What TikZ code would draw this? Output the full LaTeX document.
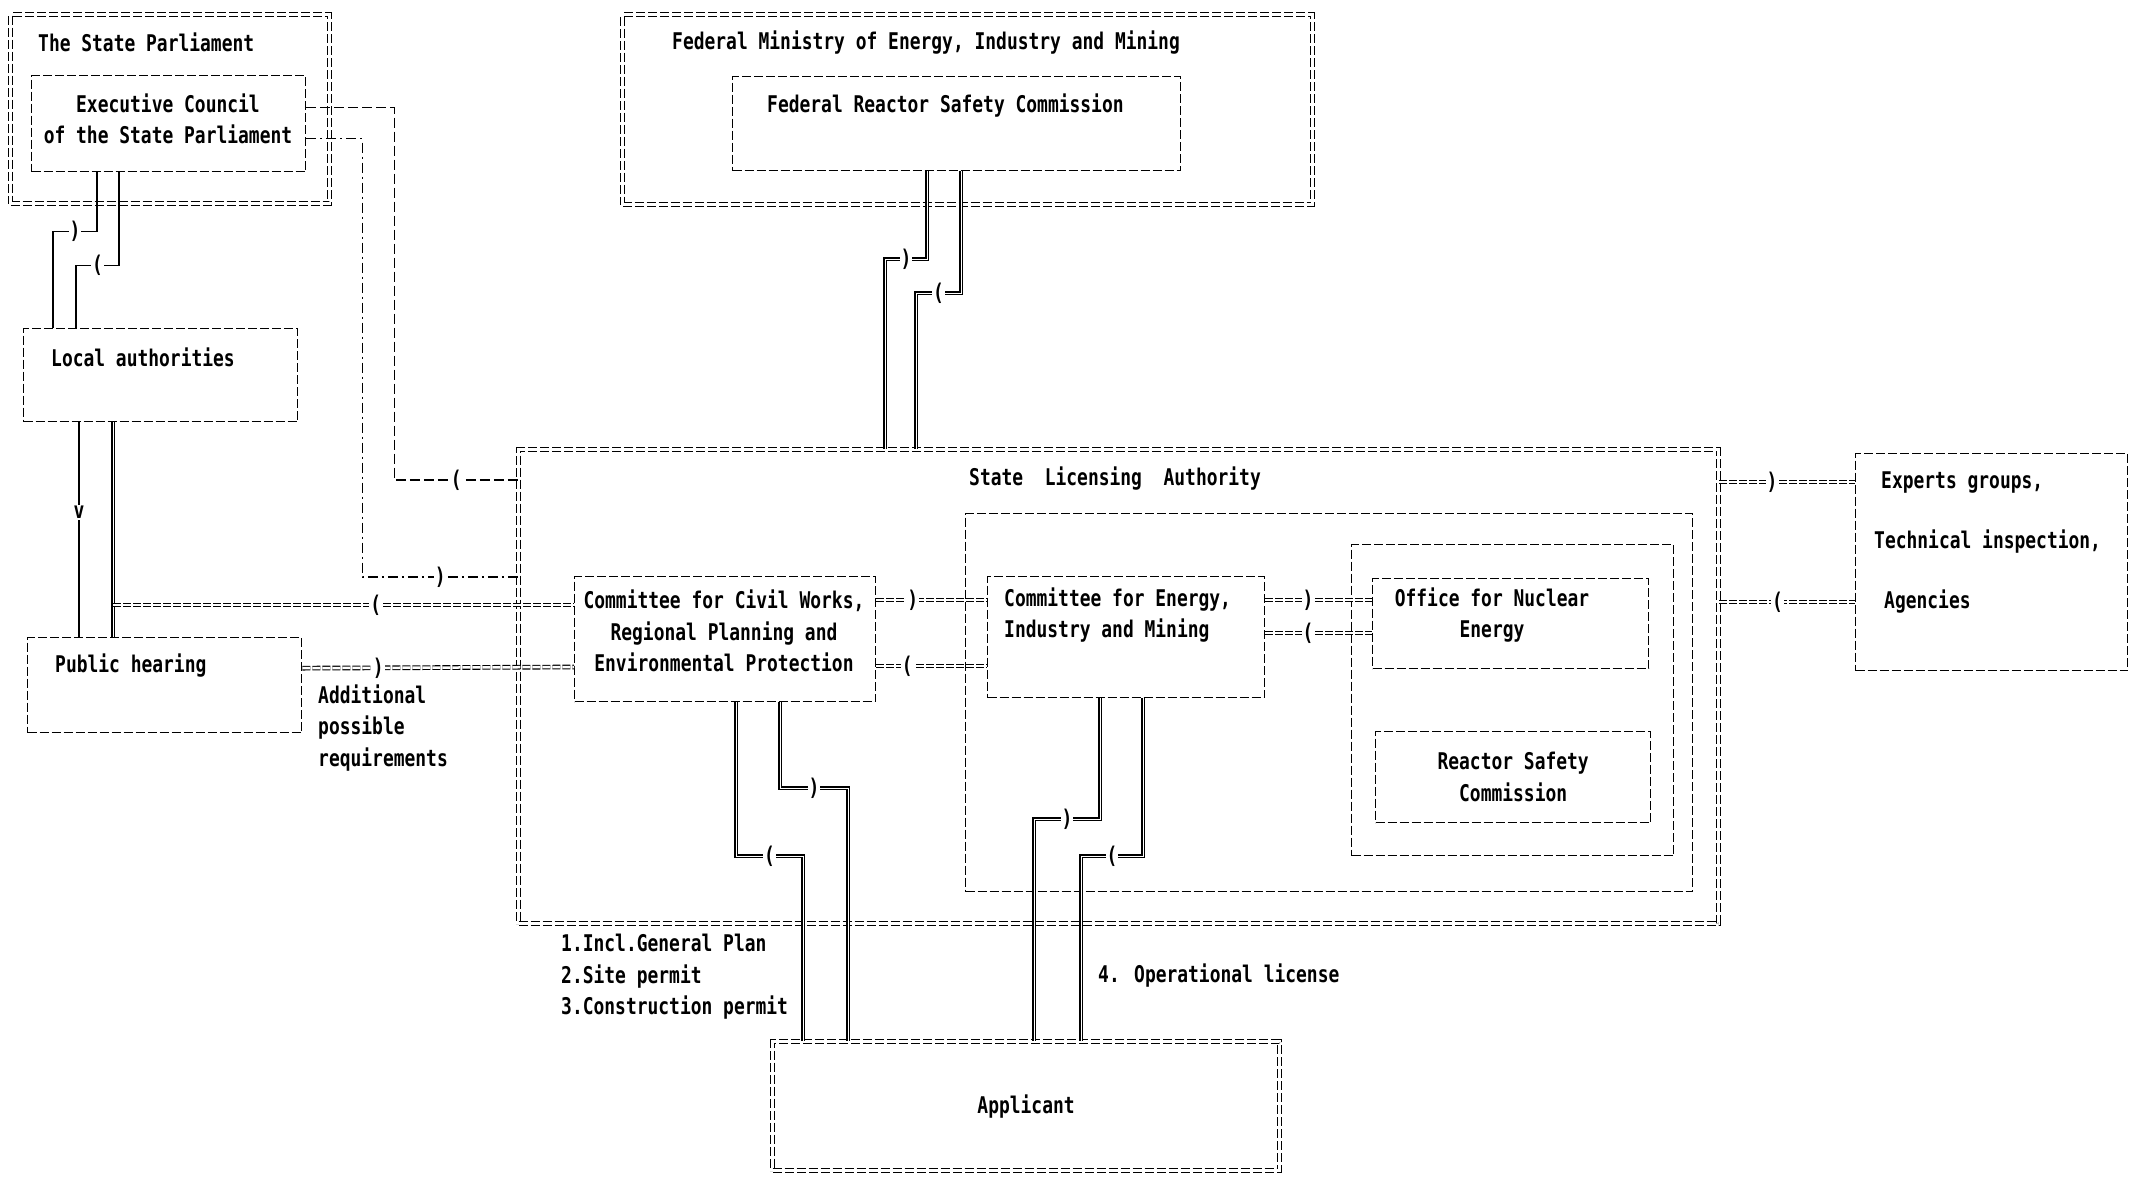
\documentclass[tikz,border=0pt]{standalone}
\usepackage{fontspec}
\newfontfamily\dotfont{DejaVu Sans Mono}[FakeStretch=0.78]
\begin{document}
\begin{tikzpicture}[x=1pt, y=-1pt,
  every node/.style={font=\dotfont\bfseries\fontsize{23}{31.5}\selectfont, inner sep=0pt},
  box/.style={draw, line width=1.3pt, dash pattern=on 9pt off 3pt, anchor=north west},
  dbox/.style={box, double, double distance=2.5pt, line width=1.1pt},
  wire/.style={line width=1.3pt},
  bus/.style={double, double distance=0.7pt, line width=1.6pt},
  dbl/.style={double, double distance=2.5pt, line width=1.1pt, dash pattern=on 8pt off 2pt},
  tipchar/.style={fill=white, inner sep=1pt}]
  \useasboundingbox (0,0) rectangle (2134,1176);

  % BOXES
  \node[dbox, minimum width=319pt, minimum height=189pt] (parl) at (10,14) {};
  \node[box, minimum width=274pt, minimum height=96pt] (exec) at (31,75) {};
  \node[box, minimum width=274pt, minimum height=93pt] (local) at (23,328) {};
  \node[box, minimum width=274pt, minimum height=95pt] (public) at (27,637) {};
  \node[dbox, minimum width=690pt, minimum height=190pt] (fedmin) at (622,14) {};
  \node[box, minimum width=448pt, minimum height=94pt] (frsc) at (732,76) {};
  \node[dbox, minimum width=1200pt, minimum height=474pt] (sla) at (518,449) {};
  \node[box, minimum width=727pt, minimum height=378pt] (energyarea) at (965,513) {};
  \node[box, minimum width=322pt, minimum height=311pt] (nucarea) at (1351,544) {};
  \node[box, minimum width=301pt, minimum height=125pt] (civil) at (574,576) {};
  \node[box, minimum width=277pt, minimum height=121pt] (energy) at (987,576) {};
  \node[box, minimum width=276pt, minimum height=90pt] (office) at (1372,578) {};
  \node[box, minimum width=275pt, minimum height=91pt, align=center] (reactor) at (1375,731)
    {Reactor Safety\\Commission};
  \node[box, minimum width=272pt, minimum height=217pt] (experts) at (1855,453) {};
  \node[dbox, minimum width=507pt, minimum height=129pt] (applicant) at (772,1041) {Applicant};

  % TEXTS
  \node[anchor=west] (parltitle) at (38,42) {The State Parliament};
  \node[align=center] (exectext) at (168,119) {Executive Council\\of the State Parliament};
  \node[anchor=west] (localtext) at (51,357) {Local authorities};
  \node[anchor=west] (publictext) at (55,666) {Public hearing};
  \node[anchor=west, align=left] (addreq) at (318,728) {Additional\\possible\\requirements};
  \node[anchor=west] (fedtitle) at (672,43) {Federal Ministry of Energy, Industry and Mining};
  \node[anchor=west] (frsctext) at (767,106) {Federal Reactor Safety Commission};
  \node[anchor=west] (slatitle) at (969,479) {State\ \ Licensing\ \ Authority};
  \node[align=center] (civiltext) at (724,631)
    {Committee for Civil Works,\\Regional Planning and\\Environmental Protection};
  \node[anchor=west, align=left] (energytext) at (1004,615) {Committee for Energy,\\Industry and Mining};
  \node[align=center] (officetext) at (1492,615) {Office for Nuclear\\Energy};
  \node[anchor=west] (experts1) at (1881,482) {Experts groups,};
  \node[anchor=west] (experts2) at (1874,542) {Technical inspection,};
  \node[anchor=west] (experts3) at (1884,602) {Agencies};
  \node[anchor=west, align=left] (permits) at (561,977)
    {1.Incl.General Plan\\2.Site permit\\3.Construction permit};
  \node[anchor=west] (oplicense) at (1098,976) {4. Operational license};

  % PARLIAMENT AND LOCAL LINKS
  \draw[wire] ([xshift=66pt]exec.south west) -- ++(0,59)
    -| node[tipchar, pos=0.25] {)} ([xshift=30pt]local.north west);
  \draw[wire] ([xshift=88pt]exec.south west) -- ++(0,93)
    -| node[tipchar, pos=0.25] {(} ([xshift=53pt]local.north west);
  \draw[wire, dash pattern=on 10pt off 4pt] ([yshift=16pt]exec.east) -- ++(88,0)
    |- node[tipchar, pos=0.75] {(} ([yshift=-31pt]sla.north west);
  \draw[wire, dash pattern=on 10pt off 4pt on 2pt off 4pt] ([yshift=-15pt]exec.east) -- ++(56,0)
    |- node[tipchar, pos=0.75] {)} ([yshift=-128pt]sla.north west);
  \draw[wire] ([xshift=56pt]local.south west) -- node[tipchar, pos=0.42] {v} ([xshift=52pt]public.north west);
  \draw[bus] ([xshift=90pt]local.south west) -- ([xshift=86pt]public.north west);
  \draw[dbl] ([xshift=86pt, yshift=32pt]public.north west)
    -- node[tipchar, pos=0.57] {(} ([yshift=-29pt]civil.north west);
  \draw[dbl] ([yshift=17pt]public.east) -- node[tipchar, pos=0.28] {)} ([yshift=-91pt]civil.north west);

  % FEDERAL LINKS
  \draw[bus] ([xshift=195pt]frsc.south west) -- ++(0,88)
    -| node[tipchar, pos=0.25] {)} ([xshift=367pt]sla.north west);
  \draw[bus] ([xshift=229pt]frsc.south west) -- ++(0,122)
    -| node[tipchar, pos=0.25] {(} ([xshift=398pt]sla.north west);

  % COMMITTEE LINKS
  \draw[dbl] ([yshift=-24pt]civil.north east) -- node[tipchar, pos=0.33] {)} ([yshift=-24pt]energy.north west);
  \draw[dbl] ([yshift=-90pt]civil.north east) -- node[tipchar, pos=0.28] {(} ([yshift=-90pt]energy.north west);
  \draw[dbl] ([yshift=-24pt]energy.north east) -- node[tipchar, pos=0.4] {)} ([yshift=-22pt]office.north west);
  \draw[dbl] ([yshift=-57pt]energy.north east) -- node[tipchar, pos=0.4] {(} ([yshift=-55pt]office.north west);
  \draw[dbl] ([yshift=-33pt]sla.north east) -- node[tipchar, pos=0.39] {)} ([yshift=-29pt]experts.north west);
  \draw[dbl] ([yshift=-153pt]sla.north east) -- node[tipchar, pos=0.43] {(} ([yshift=-149pt]experts.north west);

  % APPLICANT LINKS
  \draw[bus] ([xshift=162pt]civil.south west) -- ++(0,154)
    -| node[tipchar, pos=0.25] {(} ([xshift=31pt]applicant.north west);
  \draw[bus] ([xshift=206pt]civil.south west) -- ++(0,86)
    -| node[tipchar, pos=0.25] {)} ([xshift=76pt]applicant.north west);
  \draw[bus] ([xshift=113pt]energy.south west) -- ++(0,121)
    -| node[tipchar, pos=0.25] {)} ([xshift=262pt]applicant.north west);
  \draw[bus] ([xshift=156pt]energy.south west) -- ++(0,158)
    -| node[tipchar, pos=0.25] {(} ([xshift=309pt]applicant.north west);

\end{tikzpicture}
\end{document}
